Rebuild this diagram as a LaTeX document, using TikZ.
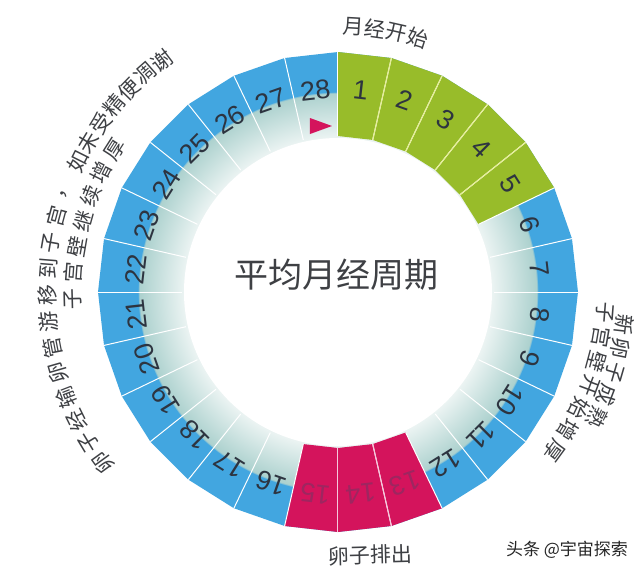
\documentclass[tikz,border=0pt]{standalone}
\usepackage{fontspec}
\setmainfont{Liberation Sans}
\newfontfamily\cjkfont{Noto Sans CJK SC}
\usepackage{tikz}
\usetikzlibrary{calc}
\definecolor{ringblue}{RGB}{66,166,224}
\definecolor{leafgreen}{RGB}{152,188,42}
\definecolor{ovapink}{RGB}{212,20,92}
\definecolor{palteal}{RGB}{172,209,206}
\definecolor{ringmist}{RGB}{236,244,243}
\definecolor{inkgrey}{RGB}{62,64,68}
\definecolor{numgrey}{RGB}{45,52,64}
\definecolor{numpink}{RGB}{158,38,96}
\definecolor{greenrule}{RGB}{230,238,150}
\definecolor{pinkrule}{RGB}{245,200,220}
\pgfdeclareradialshading{ringshade}{\pgfpoint{0bp}{0bp}}{%
  color(0bp)=(white); color(16bp)=(ringmist); color(20.7bp)=(palteal);
  color(20.85bp)=(ringblue); color(50bp)=(ringblue)}
\tikzset{
  daynum/.style={font=\fontsize{27}{27}\selectfont, text=numgrey, inner sep=0pt},
  pinknum/.style={daynum, text=numpink},
  arcchar/.style={font=\cjkfont\fontsize{21}{21}\selectfont, text=inkgrey, inner sep=0pt},
  bigchar/.style={arcchar, font=\cjkfont\fontsize{21}{21}\selectfont},
  centretitle/.style={font=\cjkfont\fontsize{34}{34}\selectfont, text=inkgrey, inner sep=0pt},
  wmark/.style={font=\cjkfont\fontsize{17}{17}\selectfont, text=black!85, inner sep=0pt},
  segrule/.style={draw=white, line width=1pt},
}

\begin{document}
\begin{tikzpicture}[x=1pt,y=1pt]
  \fill[white] (-338,-282) rectangle (302,292);
  \useasboundingbox (-338,-282) rectangle (302,292);
  \shade[shading=ringshade] (90:240) \foreach \i in {1,...,27}{ -- ({90-\i*360/28}:240)} -- cycle;
  \fill[white] (0,0) circle (154);
  \foreach \lo/\hi/\col in {1/5/leafgreen,13/15/ovapink}{
    \foreach \k in {\lo,...,\hi}{
      \fill[\col] ({90-(\k-1)*360/28}:240) -- ({90-\k*360/28}:240) -- ({90-\k*360/28}:156) -- ({90-(\k-1)*360/28}:156) -- cycle;
    }
  }
  \foreach \k in {0,...,27}{\draw[segrule] ({90-\k*360/28}:156) -- ({90-\k*360/28}:240);}
  \foreach \k in {1,...,4}{\draw[segrule, draw=greenrule] ({90-\k*360/28}:156) -- ({90-\k*360/28}:240);}
  \foreach \k in {13,14}{\draw[segrule, draw=pinkrule] ({90-\k*360/28}:156) -- ({90-\k*360/28}:240);}
  \foreach \lo/\hi/\sty in {1/12/daynum,13/15/pinknum,16/28/daynum}{
    \foreach \k in {\lo,...,\hi}{
      \pgfmathsetmacro\midang{90-(\k-0.5)*360/28}
      \node[\sty, rotate=\midang-90] (day\k) at (\midang:203) {\k};
    }
  }
  \fill[ovapink] (-28,174) -- (-28,158) -- (-6,166) -- cycle;
  \node[centretitle] (title) at (-1,17) {平均月经周期};
  \foreach \ang/\ch [count=\i] in {86.7/月,82/经,77.3/开,72.6/始}{
    \node[bigchar, rotate=\ang-90] (top\i) at (\ang:266) {\ch};
  }
  \node[bigchar, rotate=1.5] (ovulabel) at (32,-263) {卵子排出};
  \foreach \ang/\ch [count=\i] in {-6.5/新,-11.35/卵,-16.2/子,-21.05/成,-25.9/熟}{
    \node[arcchar, rotate=\ang-90] (righto\i) at (\ang:288) {\ch};
  }
  \foreach \ang/\ch [count=\i] in {-4.5/子,-9.8/宫,-15.1/壁,-20.4/开,-25.7/始,-31/增,-36.3/厚}{
    \node[arcchar, rotate=\ang-90] (righti\i) at (\ang:268) {\ch};
  }
  \foreach \ang/\ch [count=\i] in {216/卵,211.1/子,206.2/经,201.2/输,196.1/卵,191/管,185.8/游,180.6/移,175.4/到,170.2/子,165/宫,159.4/，,153.4/如,149/未,144.6/受,140.2/精,135.8/便,131.5/凋,127.3/谢}{
    \node[arcchar, rotate=\ang-90] (lefto\i) at (\ang:291) {\ch};
  }
  \foreach \ang/\ch [count=\i] in {181.5/子,175.8/宫,170.2/壁,164.5/继,158.8/续,153.2/增,147.5/厚}{
    \node[arcchar, rotate=\ang-90] (lefti\i) at (\ang:265) {\ch};
  }
  \node[wmark] (credit) at (229,-258) {头条 @宇宙探索};
\end{tikzpicture}
\end{document}
